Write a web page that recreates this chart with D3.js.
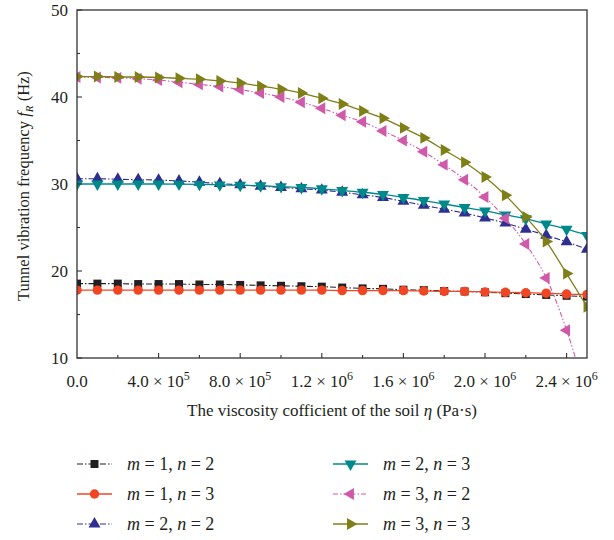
<!DOCTYPE html>
<html>
<head>
<meta charset="utf-8">
<script src="https://cdn.jsdelivr.net/npm/d3@7"></script>
<style>
  html, body { margin: 0; padding: 0; background: #fff; }
  svg { display: block; font-family: "Liberation Serif", "DejaVu Serif", serif; }
</style>
</head>
<body>
<svg id="chart" width="614" height="540"></svg>
<script>
// Viscosity coefficient of the soil (Pa·s), sampled every 1e5
const eta = [0, 1e5, 2e5, 3e5, 4e5, 5e5, 6e5, 7e5, 8e5, 9e5, 1.0e6, 1.1e6, 1.2e6,
  1.3e6, 1.4e6, 1.5e6, 1.6e6, 1.7e6, 1.8e6, 1.9e6, 2.0e6, 2.1e6, 2.2e6, 2.3e6, 2.4e6, 2.5e6];

// Tunnel vibration frequency f_R (Hz) for each mode (m, n)
const f_m1n2 = [18.55, 18.55, 18.55, 18.5, 18.5, 18.5, 18.45, 18.45, 18.4, 18.35, 18.3, 18.25, 18.2,
  18.1, 18.0, 17.95, 17.85, 17.8, 17.7, 17.65, 17.55, 17.45, 17.35, 17.25, 17.15, 17.05];
const f_m1n3 = [17.8, 17.8, 17.8, 17.8, 17.8, 17.8, 17.8, 17.8, 17.8, 17.8, 17.8, 17.8, 17.8,
  17.75, 17.75, 17.75, 17.75, 17.7, 17.65, 17.65, 17.6, 17.55, 17.5, 17.45, 17.35, 17.3];
const f_m2n2 = [30.6, 30.6, 30.55, 30.5, 30.45, 30.35, 30.2, 30.05, 29.9, 29.75, 29.6, 29.45, 29.3,
  29.05, 28.75, 28.45, 28.0, 27.55, 27.1, 26.65, 26.1, 25.5, 24.8, 24.1, 23.35, 22.5];
const f_m2n3 = [30.0, 30.0, 30.0, 30.0, 30.0, 29.98, 29.95, 29.9, 29.85, 29.8, 29.7, 29.6, 29.45,
  29.25, 29.05, 28.8, 28.45, 28.1, 27.7, 27.3, 26.9, 26.45, 26.0, 25.4, 24.8, 24.1];
const f_m3n2 = [42.3, 42.25, 42.2, 42.1, 41.95, 41.7, 41.45, 41.2, 40.85, 40.45, 40.0, 39.4, 38.7,
  37.9, 37.15, 36.1, 35.0, 33.7, 32.2, 30.5, 28.5, 26.05, 23.1, 19.2, 13.2, 5.5];
const f_m3n3 = [42.35, 42.35, 42.3, 42.3, 42.25, 42.15, 42.05, 41.85, 41.6, 41.25, 40.9, 40.45, 39.85,
  39.2, 38.4, 37.55, 36.45, 35.3, 33.9, 32.5, 30.8, 28.7, 26.2, 23.4, 19.7, 15.9];

const seriesNames = ["m = 1, n = 2", "m = 1, n = 3", "m = 2, n = 2", "m = 2, n = 3", "m = 3, n = 2", "m = 3, n = 3"];
const seriesValues = [f_m1n2, f_m1n3, f_m2n2, f_m2n3, f_m3n2, f_m3n3];

const yTicks = [10, 20, 30, 40, 50];
const yMinorTicks = [15, 25, 35, 45];
const xTicks = [0, 4e5, 8e5, 1.2e6, 1.6e6, 2.0e6, 2.4e6];
const xTickMant = ["0.0", "4.0", "8.0", "1.2", "1.6", "2.0", "2.4"];
const xTickExp = ["", "5", "5", "6", "6", "6", "6"];
const xMinorTicks = [2e5, 6e5, 1.0e6, 1.4e6, 1.8e6, 2.2e6];

// Styling per series
const styles = [
  { color: "#231f20", dash: "6,2,1.5,2", shape: "square", width: 1.1 },
  { color: "#f04624", dash: null, shape: "circle", width: 1.3 },
  { color: "#2f2f91", dash: "6,2,1.5,2", shape: "up", width: 1.1 },
  { color: "#00898a", dash: null, shape: "down", width: 1.3 },
  { color: "#d05aaa", dash: "5,2,1.5,2,1.5,2", shape: "left", width: 1.1 },
  { color: "#7f7f17", dash: null, shape: "right", width: 1.3 }
];

const svg = d3.select("#chart");
const mLeft = 77, mRight = 587, mTop = 10, mBottom = 358;

const x = d3.scaleLinear().domain([0, 2.5e6]).range([mLeft, mRight]);
const y = d3.scaleLinear().domain([10, 50]).range([mBottom, mTop]);

svg.append("defs").append("clipPath").attr("id", "plotClip")
  .append("rect").attr("x", mLeft).attr("y", mTop).attr("width", mRight - mLeft).attr("height", mBottom - mTop);

function markerPath(shape) {
  if (shape === "square") return { d: d3.symbol(d3.symbolSquare, 64)(), rot: 0 };
  if (shape === "circle") return { d: d3.symbol(d3.symbolCircle, 70)(), rot: 0 };
  const tri = d3.symbol(d3.symbolTriangle, 62)();
  const rot = { up: 0, down: 180, left: -90, right: 90 }[shape];
  return { d: tri, rot };
}

const plot = svg.append("g").attr("clip-path", "url(#plotClip)");
const line = d3.line().x((d, i) => x(eta[i])).y(d => y(d)).curve(d3.curveMonotoneX);

seriesValues.forEach((vals, k) => {
  const st = styles[k];
  const g = plot.append("g");
  g.append("path").datum(vals)
    .attr("d", line)
    .attr("fill", "none")
    .attr("stroke", st.color)
    .attr("stroke-width", st.width)
    .attr("stroke-dasharray", st.dash);
  const m = markerPath(st.shape);
  g.selectAll("path.mk").data(vals).join("path")
    .attr("class", "mk")
    .attr("d", m.d)
    .attr("transform", (d, i) => `translate(${x(eta[i])},${y(d)}) rotate(${m.rot})`)
    .attr("fill", st.color);
});

// Frame
const axisColor = "#333";
svg.append("rect").attr("x", mLeft).attr("y", mTop).attr("width", mRight - mLeft).attr("height", mBottom - mTop)
  .attr("fill", "none").attr("stroke", axisColor).attr("stroke-width", 1.3);

// Y axis ticks (inward) and labels
const yAxis = svg.append("g");
yAxis.selectAll("line.maj").data(yTicks).join("line")
  .attr("x1", mLeft).attr("x2", mLeft + 5).attr("y1", d => y(d)).attr("y2", d => y(d))
  .attr("stroke", axisColor).attr("stroke-width", 1.1);
yAxis.selectAll("line.min").data(yMinorTicks).join("line")
  .attr("x1", mLeft).attr("x2", mLeft + 3).attr("y1", d => y(d)).attr("y2", d => y(d))
  .attr("stroke", axisColor).attr("stroke-width", 1.1);
yAxis.selectAll("text").data(yTicks).join("text")
  .attr("x", mLeft - 9).attr("y", d => y(d) + 5.5)
  .attr("text-anchor", "end").attr("font-size", 17).attr("fill", "#231f20")
  .text(d => d);

// X axis ticks (inward) and labels
const xAxis = svg.append("g");
xAxis.selectAll("line.maj").data(xTicks.slice(1)).join("line")
  .attr("x1", d => x(d)).attr("x2", d => x(d)).attr("y1", mBottom).attr("y2", mBottom - 5)
  .attr("stroke", axisColor).attr("stroke-width", 1.1);
xAxis.selectAll("line.min").data(xMinorTicks).join("line")
  .attr("x1", d => x(d)).attr("x2", d => x(d)).attr("y1", mBottom).attr("y2", mBottom - 3)
  .attr("stroke", axisColor).attr("stroke-width", 1.1);
xTicks.forEach((t, i) => {
  const tx = xAxis.append("text")
    .attr("x", x(t)).attr("y", 387)
    .attr("text-anchor", "middle").attr("font-size", 17).attr("fill", "#231f20");
  if (xTickExp[i]) {
    tx.append("tspan").text(xTickMant[i] + " \u00d7 10");
    tx.append("tspan").attr("dy", -7).attr("font-size", 12).text(xTickExp[i]);
  } else {
    tx.text(xTickMant[i]);
  }
});

// Axis titles
const xTitle = svg.append("text").attr("x", 332).attr("y", 416)
  .attr("text-anchor", "middle").attr("font-size", 17).attr("fill", "#231f20");
xTitle.append("tspan").text("The viscosity cofficient of the soil ");
xTitle.append("tspan").attr("font-style", "italic").text("\u03b7");
xTitle.append("tspan").text(" (Pa\u00b7s)");

const yTitle = svg.append("text")
  .attr("transform", `translate(29,${(mTop + mBottom) / 2 + 2}) rotate(-90)`)
  .attr("text-anchor", "middle").attr("font-size", 16.5).attr("fill", "#231f20");
yTitle.append("tspan").text("Tunnel vibration frequency ");
yTitle.append("tspan").attr("font-style", "italic").text("f");
yTitle.append("tspan").attr("font-style", "italic").attr("font-size", 11).attr("dy", 4).text("R");
yTitle.append("tspan").attr("dy", -4).text(" (Hz)");

// Legend: two columns of three entries
const legendCols = [{ x0: 77, x1: 112, tx: 127 }, { x0: 333, x1: 368, tx: 383 }];
const legendRows = [464, 494, 524];
seriesNames.forEach((name, k) => {
  const col = legendCols[Math.floor(k / 3)];
  const ry = legendRows[k % 3];
  const st = styles[k];
  const g = svg.append("g");
  g.append("line").attr("x1", col.x0).attr("x2", col.x1).attr("y1", ry).attr("y2", ry)
    .attr("stroke", st.color).attr("stroke-width", st.width).attr("stroke-dasharray", st.dash);
  const m = markerPath(st.shape);
  g.append("path").attr("d", m.d)
    .attr("transform", `translate(${(col.x0 + col.x1) / 2},${ry}) rotate(${m.rot})`)
    .attr("fill", st.color);
  const parts = name.match(/m = (\d), n = (\d)/);
  const t = g.append("text").attr("x", col.tx).attr("y", ry + 6)
    .attr("font-size", 18).attr("fill", "#231f20");
  t.append("tspan").attr("font-style", "italic").text("m");
  t.append("tspan").text(" = " + parts[1] + ", ");
  t.append("tspan").attr("font-style", "italic").text("n");
  t.append("tspan").text(" = " + parts[2]);
});
</script>
</body>
</html>
